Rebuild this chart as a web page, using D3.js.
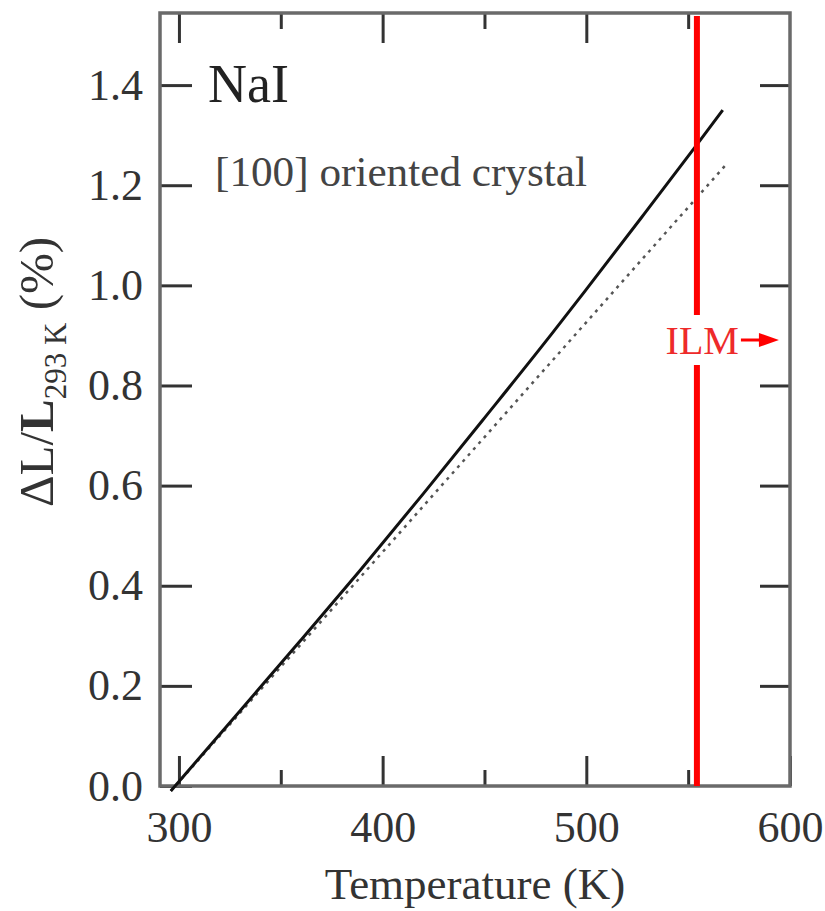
<!DOCTYPE html>
<html>
<head>
<meta charset="utf-8">
<script src="https://cdn.jsdelivr.net/npm/d3@7"></script>
<style>
  html, body { margin: 0; padding: 0; background: #fff; }
  svg { display: block; }
  text { font-family: "Liberation Serif", "Times New Roman", serif; }
</style>
</head>
<body>
<svg id="chart" width="825" height="911"></svg>
<script>
// ---- data ----
const tempMeasured = [296, 331, 360, 389, 420, 449, 483, 500, 527, 553, 567];
const expMeasured  = [-0.01, 0.155, 0.292, 0.431, 0.584, 0.730, 0.903, 0.992, 1.135, 1.274, 1.350];
const tempLinear   = [296, 569];
const expLinear    = [-0.01, 1.243];
const ilmTemp = 554.3;
const xMajorTicks = [300, 400, 500, 600];
const xMinorTicks = [350, 450, 550];
const yTicks = [0.0, 0.2, 0.4, 0.6, 0.8, 1.0, 1.2, 1.4];

// ---- layout ----
const W = 825, H = 911;
const m = { left: 160, top: 13, right: 35, bottom: 125 };
const pw = W - m.left - m.right, ph = H - m.top - m.bottom;

const svg = d3.select("#chart");
const g = svg.append("g").attr("transform", `translate(${m.left},${m.top})`);

const x = d3.scaleLinear().domain([290.7, 600]).range([0, pw]);
const y = d3.scaleLinear().domain([0, 1.544]).range([ph, 0]);

const tickColor = "#333", frameColor = "#6a6a6a";

function styleAxis(sel) {
  sel.select(".domain").remove();
  sel.selectAll(".tick line").attr("stroke", tickColor).attr("stroke-width", 3);
}

// bottom major
g.append("g").attr("transform", `translate(0,${ph})`)
  .call(d3.axisBottom(x).tickValues(xMajorTicks).tickSize(-30).tickFormat(d3.format("d")))
  .call(styleAxis)
  .call(s => s.selectAll("text").attr("y", 56).attr("dy", 0)
      .attr("font-size", 44).attr("fill", "#333")
      .style("font-family", '"Liberation Serif", serif'));
// bottom minor
g.append("g").attr("transform", `translate(0,${ph})`)
  .call(d3.axisBottom(x).tickValues(xMinorTicks).tickSize(-16).tickFormat(""))
  .call(styleAxis);
// top major / minor
g.append("g")
  .call(d3.axisTop(x).tickValues(xMajorTicks.filter(v => v < 600)).tickSize(-30).tickFormat(""))
  .call(styleAxis);
g.append("g")
  .call(d3.axisTop(x).tickValues(xMinorTicks).tickSize(-16).tickFormat(""))
  .call(styleAxis);
// left
g.append("g")
  .call(d3.axisLeft(y).tickValues(yTicks).tickSize(-32).tickPadding(17).tickFormat(d3.format(".1f")))
  .call(styleAxis)
  .call(s => s.selectAll("text").attr("font-size", 44).attr("fill", "#333")
      .style("font-family", '"Liberation Serif", serif'));
// right
g.append("g").attr("transform", `translate(${pw},0)`)
  .call(d3.axisRight(y).tickValues(yTicks.filter(v => v > 0)).tickSize(-30).tickFormat(""))
  .call(styleAxis);

// frame
g.append("rect").attr("x", 0).attr("y", 0).attr("width", pw).attr("height", ph)
  .attr("fill", "none").attr("stroke", frameColor).attr("stroke-width", 3.5);

// lines
const line = d3.line().x(d => x(d[0])).y(d => y(d[1])).curve(d3.curveMonotoneX);
g.append("path")
  .datum(d3.zip(tempLinear, expLinear))
  .attr("d", line).attr("fill", "none")
  .attr("stroke", "#555").attr("stroke-width", 2.5).attr("stroke-dasharray", "3,5");
g.append("path")
  .datum(d3.zip(tempMeasured, expMeasured))
  .attr("d", line).attr("fill", "none")
  .attr("stroke", "#111").attr("stroke-width", 3);

// ILM red line with gap for label
const xr = x(ilmTemp);
const gapTop = 315 - m.top, gapBot = 365 - m.top;
g.append("line").attr("x1", xr).attr("x2", xr).attr("y1", 3).attr("y2", gapTop)
  .attr("stroke", "#ff0000").attr("stroke-width", 6);
g.append("line").attr("x1", xr).attr("x2", xr).attr("y1", gapBot).attr("y2", ph)
  .attr("stroke", "#ff0000").attr("stroke-width", 6);
g.append("text").attr("x", xr + 42).attr("y", 354 - m.top)
  .attr("text-anchor", "end").attr("font-size", 40).attr("fill", "#ee2a2a").text("ILM");
g.append("line").attr("x1", xr + 44).attr("x2", xr + 70).attr("y1", 340 - m.top).attr("y2", 340 - m.top)
  .attr("stroke", "#ff0000").attr("stroke-width", 3);
g.append("path")
  .attr("d", `M${xr + 82},${340 - m.top} L${xr + 62},${333 - m.top} L${xr + 62},${347 - m.top} Z`)
  .attr("fill", "#ff0000");

// annotations
svg.append("text").attr("x", 208).attr("y", 102).attr("font-size", 54).attr("fill", "#222").text("NaI");
svg.append("text").attr("x", 215).attr("y", 186).attr("font-size", 42).attr("fill", "#444")
  .attr("textLength", 372).attr("lengthAdjust", "spacingAndGlyphs")
  .text("[100] oriented crystal");

// axis titles
svg.append("text").attr("x", m.left + pw / 2).attr("y", 899).attr("text-anchor", "middle")
  .attr("font-size", 45).attr("fill", "#333").text("Temperature (K)");

const yt = svg.append("text").attr("transform", "translate(53,507) rotate(-90)")
  .attr("text-anchor", "start").attr("font-size", 49).attr("fill", "#333");
yt.append("tspan").text("ΔL/");
yt.append("tspan").attr("font-weight", "bold").text("L");
yt.append("tspan").attr("font-size", 31).attr("dy", 13).text("293 K");
yt.append("tspan").attr("dy", -13).text(" (%)");
</script>
</body>
</html>
